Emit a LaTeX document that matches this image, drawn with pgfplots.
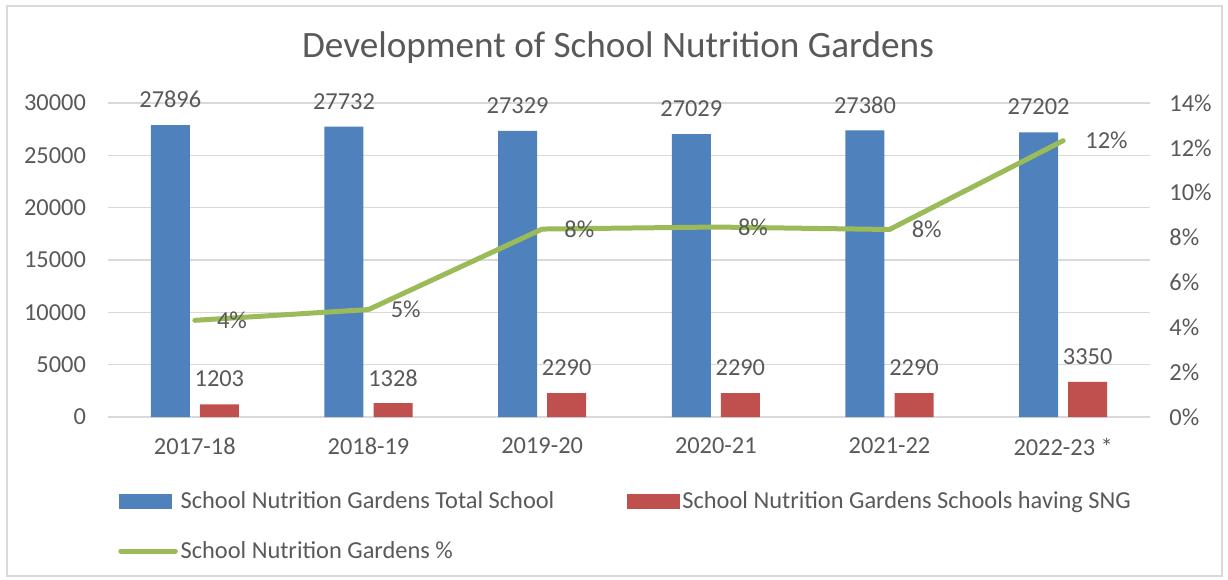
\documentclass[border=0pt]{standalone}
\usepackage{pgfplots}
\pgfplotsset{compat=1.18}
\usepackage{fontspec}
\setmainfont{Carlito}
\definecolor{cblue}{HTML}{4F81BD}
\definecolor{cred}{HTML}{C0504D}
\definecolor{cgreen}{HTML}{9BBB59}
\definecolor{ctext}{HTML}{595959}
\definecolor{cgrid}{HTML}{D9D9D9}
\newcommand{\tf}{\fontsize{18.3}{22}\selectfont}
\begin{document}
\begin{tikzpicture}
\path[use as bounding box] (0,0) rectangle (921pt,434.25pt);
\draw[cgrid, line width=0.9pt] (5.25pt,2.25pt) rectangle (916.5pt,429.75pt);
\node[text=ctext, font=\fontsize{27.9}{33}\selectfont] at (463.5pt,398.25pt) {Development of School Nutrition Gardens};
\pgfplotsset{
  every axis/.append style={
    scale only axis, width=781.5pt, height=235.5pt,
    at={(81pt,121.5pt)}, anchor=south west,
    xmin=-0.5, xmax=5.5,
    /pgf/number format/assume math mode=true,
    /pgf/number format/1000 sep={},
    tick label style={font=\tf, text=ctext},
    major tick length=0pt,
    clip=false,
  }
}
\begin{axis}[
  ymin=0, ymax=30000, ytick={0,5000,...,30000},
  scaled y ticks=false,
  xtick={0,...,5},
  xticklabels={2017-18,2018-19,2019-20,2020-21,2021-22,2022-23 *},
  ymajorgrids, grid style={cgrid, line width=0.9pt},
  axis x line*=bottom, axis y line*=left,
  x axis line style={cgrid, line width=1.2pt, -},
  y axis line style={draw=none},
  yticklabel style={xshift=-13pt},
  xticklabel style={yshift=-12pt},
]
\addplot[ybar, bar width=29.25pt, bar shift=-18.4pt, fill=cblue, draw=none,
  nodes near coords,
  every node near coord/.append style={anchor=center, xshift=-18.4pt, yshift=19pt, font=\tf, text=ctext}]
  coordinates {(0,27896)(1,27732)(2,27329)(3,27029)(4,27380)(5,27202)};
\addplot[ybar, bar width=29.25pt, bar shift=18.4pt, fill=cred, draw=none,
  nodes near coords,
  every node near coord/.append style={anchor=center, xshift=18.4pt, yshift=19pt, font=\tf, text=ctext}]
  coordinates {(0,1203)(1,1328)(2,2290)(3,2290)(4,2290)(5,3350)};
\end{axis}
\begin{axis}[
  ymin=0, ymax=0.14,
  ytick={0,0.02,0.04,0.06,0.08,0.1,0.12,0.14},
  yticklabels={0\%,2\%,4\%,6\%,8\%,10\%,12\%,14\%},
  axis x line=none, axis y line*=right,
  y axis line style={draw=none},
  yticklabel style={xshift=11pt},
  xtick=\empty,
  legend columns=2,
  legend cell align=left,
  legend style={at={(axis description cs:0,0)}, anchor=north west, xshift=4.5pt, yshift=-52pt,
    draw=none, fill=none, font=\tf, text=ctext, row sep=19pt,
    /tikz/every even column/.append style={column sep=52.5pt}},
]
\addlegendimage{legend image code/.code={\fill[cblue] (0pt,-5.25pt) rectangle (39pt,5.25pt);}}
\addlegendentry{School Nutrition Gardens Total School}
\addlegendimage{legend image code/.code={\fill[cred] (0pt,-5.25pt) rectangle (39pt,5.25pt);}}
\addlegendentry{School Nutrition Gardens Schools having SNG}
\addplot[cgreen, line width=3.75pt, line cap=round, line join=round,
  nodes near coords, point meta=explicit symbolic,
  every node near coord/.append style={anchor=west, xshift=11.5pt, font=\tf, text=ctext},
  legend image code/.code={\draw[cgreen, line width=3.75pt, line cap=round] (1pt,0pt) -- (42pt,0pt);}]
  coordinates {(0,0.0431)[4\%] (1,0.0479)[5\%] (2,0.0838)[8\%] (3,0.0847)[8\%] (4,0.0836)[8\%] (5,0.1232)[12\%]};
\addlegendentry{School Nutrition Gardens \%}
\end{axis}
\end{tikzpicture}
\end{document}
